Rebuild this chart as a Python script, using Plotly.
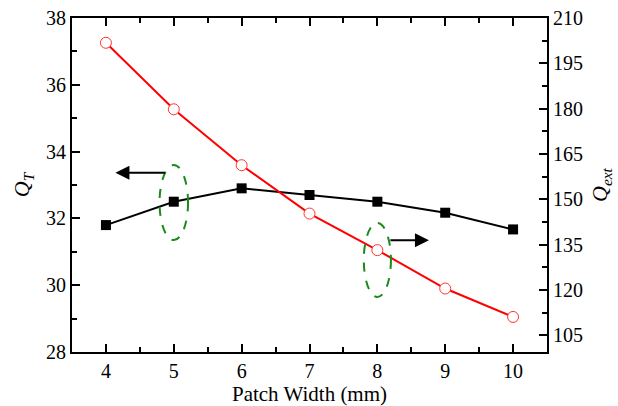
import plotly.graph_objects as go

# Patch width sweep (mm)
patch_width = [4, 5, 6, 7, 8, 9, 10]
# Unloaded quality factor Q_T (left axis)
q_t = [31.8, 32.5, 32.9, 32.7, 32.5, 32.17, 31.67]
# External quality factor Q_ext (right axis)
q_ext = [201.8, 179.8, 161.3, 145.3, 133.2, 120.5, 111.1]

x_ticks = [4, 5, 6, 7, 8, 9, 10]
yl_ticks = [28, 30, 32, 34, 36, 38]
yr_ticks = [105, 120, 135, 150, 165, 180, 195, 210]

FONT = "Liberation Serif"

fig = go.Figure()
fig.add_trace(go.Scatter(
    x=patch_width, y=q_t, mode="lines+markers",
    line=dict(color="black", width=2),
    marker=dict(symbol="square", size=10, color="black"),
    yaxis="y", showlegend=False,
))
fig.add_trace(go.Scatter(
    x=patch_width, y=q_ext, mode="lines+markers",
    line=dict(color="#ff0000", width=2),
    marker=dict(symbol="circle", size=11, color="white",
                line=dict(color="#ff3333", width=1)),
    yaxis="y2", showlegend=False,
))

axis_common = dict(
    showline=True, linecolor="black", linewidth=2,
    ticks="inside", ticklen=8, tickwidth=1.5, tickcolor="black",
    showgrid=False, zeroline=False, automargin=False,
    tickfont=dict(family=FONT, size=20, color="black"),
)

fig.update_layout(
    width=618, height=406,
    margin=dict(l=72, r=71, t=18, b=54),
    paper_bgcolor="white", plot_bgcolor="white",
    font=dict(family=FONT, color="black"),
    xaxis=dict(
        range=[3.5, 10.5], tickvals=x_ticks, mirror="ticks",
        minor=dict(dtick=0.5, tick0=3.5, ticks="inside", ticklen=5,
                   tickwidth=1.5, tickcolor="black"),
        title=dict(text="Patch Width (mm)", font=dict(family=FONT, size=21),
                   standoff=2),
        **axis_common,
    ),
    yaxis=dict(
        range=[28, 38], tickvals=yl_ticks,
        minor=dict(dtick=1, ticks="inside", ticklen=5,
                   tickwidth=1.5, tickcolor="black"),
        title=dict(text="<i>Q<sub>T</sub></i>", font=dict(family=FONT, size=22),
                   standoff=10),
        **axis_common,
    ),
    yaxis2=dict(
        range=[99.5, 210], tickvals=yr_ticks, overlaying="y", side="right",
        minor=dict(dtick=7.5, tick0=105, ticks="inside", ticklen=5,
                   tickwidth=1.5, tickcolor="black"),
        title=dict(text="<i>Q<sub>ext</sub></i>", font=dict(family=FONT, size=22),
                   standoff=10),
        **axis_common,
    ),
)

# Dashed ellipses grouping each curve with its axis
fig.add_shape(type="circle", xref="x", yref="y",
              x0=4.79, x1=5.21, y0=31.35, y1=33.6,
              line=dict(color="#1a8a1a", width=2, dash="dash"))
fig.add_shape(type="circle", xref="x", yref="y2",
              x0=7.8, x1=8.2, y0=117.7, y1=142.2,
              line=dict(color="#1a8a1a", width=2, dash="dash"))

# Arrows pointing to the corresponding axis
fig.add_annotation(x=4.14, y=33.37, ax=4.89, ay=33.37, xref="x", yref="y",
                   axref="x", ayref="y", text="", showarrow=True,
                   arrowhead=2, arrowsize=1.4, arrowwidth=2, arrowcolor="black")
fig.add_annotation(x=8.76, y=136.5, ax=8.17, ay=136.5, xref="x", yref="y2",
                   axref="x", ayref="y2", text="", showarrow=True,
                   arrowhead=2, arrowsize=1.4, arrowwidth=2, arrowcolor="black")

fig.write_html("out.html")
